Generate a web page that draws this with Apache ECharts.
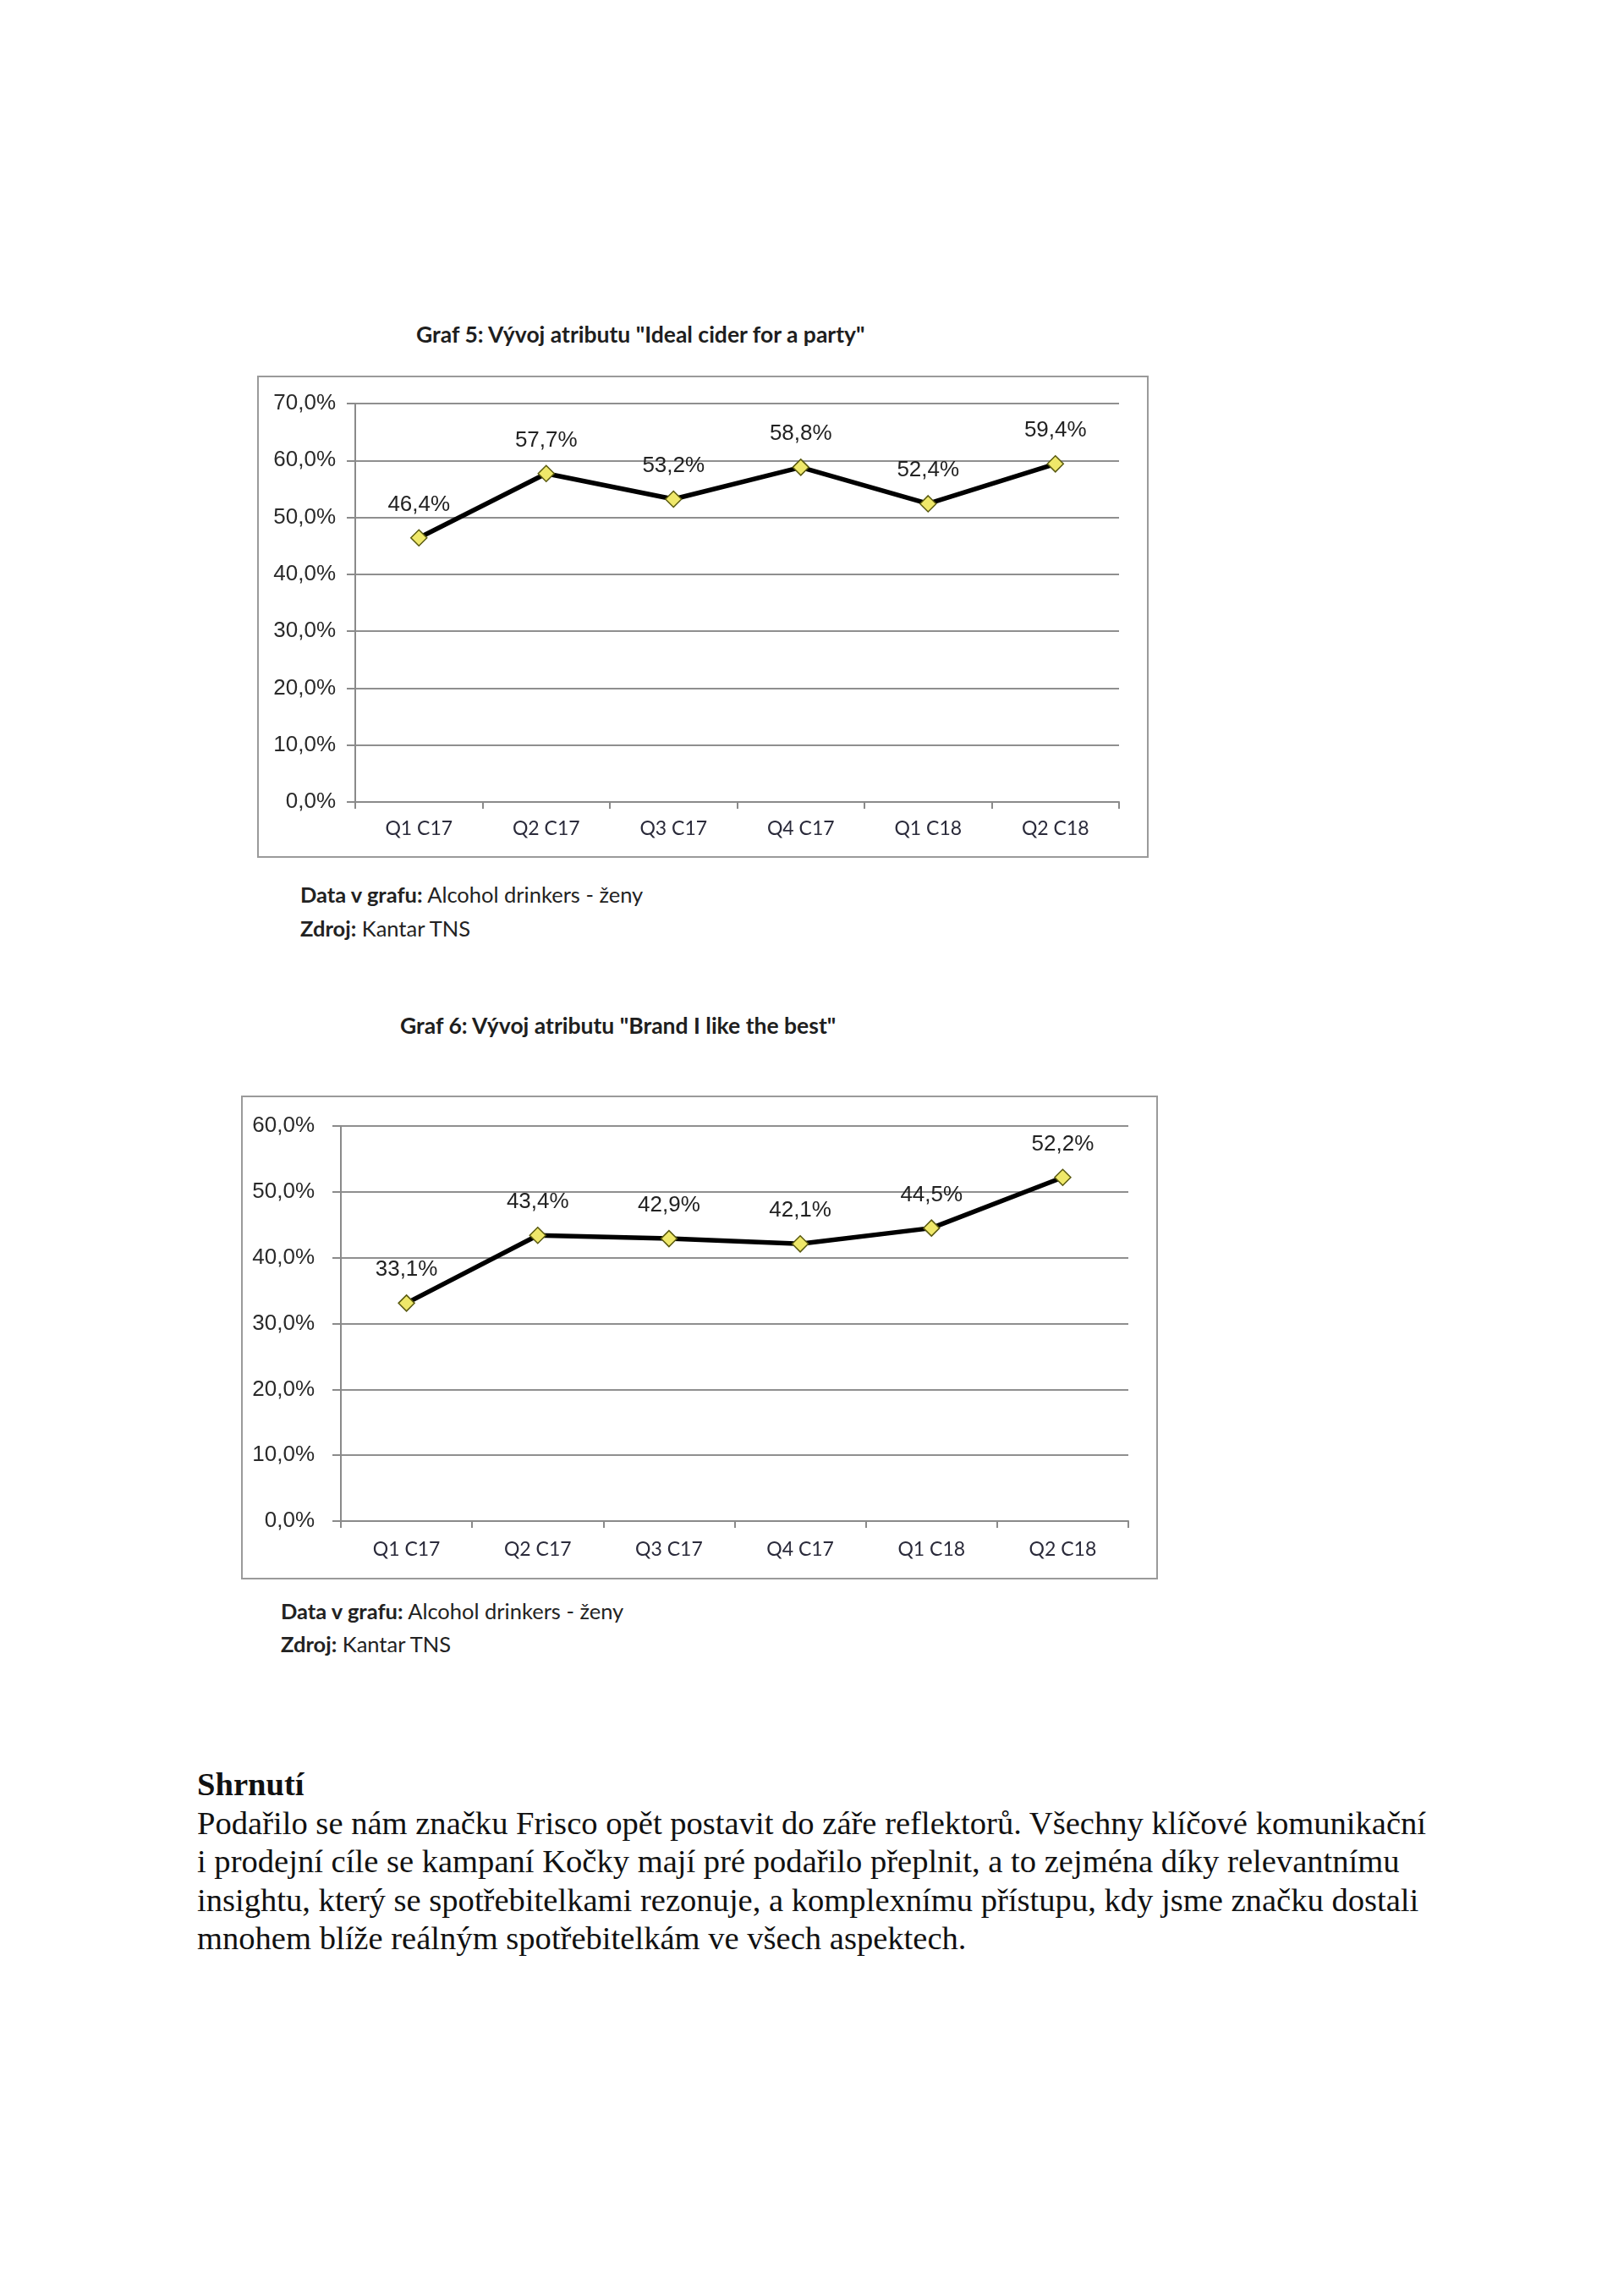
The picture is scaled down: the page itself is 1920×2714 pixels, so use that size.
<!DOCTYPE html>
<html>
<head>
<meta charset="utf-8">
<script src="https://cdn.jsdelivr.net/npm/echarts@6/dist/echarts.min.js"></script>
<style>
  html, body { margin:0; padding:0; background:#fff; }
  body { width:1920px; height:2714px; position:relative; overflow:hidden; }
  .box { position:absolute; border:2px solid #9a9a9a; box-sizing:border-box; }
  .t { position:absolute; white-space:nowrap; color:#222; }
  .title { font-family: Lato, "Open Sans", sans-serif; font-weight:700; font-size:26.5px; line-height:30px; color:#1e1e1e; }
  .foot { font-family: Lato, "Open Sans", sans-serif; font-size:25.5px; line-height:30px; color:#222; }
  .foot b { font-weight:700; }
  .para { position:absolute; left:233px; top:2087px; font-family:"Liberation Serif", "Times New Roman", serif; font-size:38.6px; line-height:45.5px; color:#111; white-space:nowrap; }
  #chart { position:absolute; left:0; top:0; width:1920px; height:2714px; }
</style>
</head>
<body>
<div class="box" style="left:304px; top:444px; width:1054px; height:570px;"></div>
<div class="box" style="left:285px; top:1295px; width:1084px; height:572px;"></div>

<div class="t title" style="left:492px; top:380px;">Graf 5: Vývoj atributu "Ideal cider for a party"</div>
<div class="t title" style="left:473px; top:1197px;">Graf 6: Vývoj atributu "Brand I like the best"</div>

<div class="t foot" style="left:355px; top:1042px;"><b>Data v grafu:</b> Alcohol drinkers - ženy</div>
<div class="t foot" style="left:355px; top:1082px;"><b>Zdroj:</b> Kantar TNS</div>
<div class="t foot" style="left:332px; top:1889px;"><b>Data v grafu:</b> Alcohol drinkers - ženy</div>
<div class="t foot" style="left:332px; top:1928px;"><b>Zdroj:</b> Kantar TNS</div>

<div class="para">
<b>Shrnutí</b><br>
Podařilo se nám značku Frisco opět postavit do záře reflektorů. Všechny klíčové komunikační<br>
i prodejní cíle se kampaní Kočky mají pré podařilo přeplnit, a to zejména díky relevantnímu<br>
insightu, který se spotřebitelkami rezonuje, a komplexnímu přístupu, kdy jsme značku dostali<br>
mnohem blíže reálným spotřebitelkám ve všech aspektech.
</div>

<div id="chart"></div>

<script>
// ---- data ----
var categories = ['Q1 C17', 'Q2 C17', 'Q3 C17', 'Q4 C17', 'Q1 C18', 'Q2 C18'];
var idealCider = [46.4, 57.7, 53.2, 58.8, 52.4, 59.4];
var brandLikeBest = [33.1, 43.4, 42.9, 42.1, 44.5, 52.2];
var axis1Max = 70;
var axis2Max = 60;
var axisStep = 10;

function pct(v) { return v.toFixed(1).replace('.', ',') + '%'; }

var chart = echarts.init(document.getElementById('chart'), null, { renderer: 'canvas' });

function xAx(gi, margin) {
  return {
    type: 'category', gridIndex: gi, data: categories, boundaryGap: true,
    axisLine: { show: true, lineStyle: { color: '#8a8a8a', width: 2 } },
    axisTick: { show: true, alignWithLabel: false, length: 8, lineStyle: { color: '#8a8a8a', width: 2 } },
    axisLabel: { margin: margin, color: '#2a2a3a', fontFamily: 'Lato, "Open Sans", sans-serif', fontSize: 23 },
    splitLine: { show: false }
  };
}
function yAx(gi, max, margin) {
  return {
    type: 'value', gridIndex: gi, min: 0, max: max, interval: axisStep,
    axisLine: { show: true, lineStyle: { color: '#8a8a8a', width: 2 } },
    axisTick: { show: true, length: 10, lineStyle: { color: '#8a8a8a', width: 2 } },
    axisLabel: { margin: margin, color: '#2a2a2a', fontFamily: '"Liberation Sans", Arial, sans-serif', fontSize: 26, formatter: function (v) { return pct(v); } },
    splitLine: { show: true, lineStyle: { color: '#8f8f8f', width: 2 } }
  };
}
function ser(gi, data) {
  return {
    type: 'line', xAxisIndex: gi, yAxisIndex: gi, data: data,
    symbol: 'diamond', symbolSize: 19,
    lineStyle: { color: '#000', width: 5.5 },
    itemStyle: { color: '#efe86a', borderColor: '#5a5a10', borderWidth: 1.5 },
    label: { show: true, position: 'top', distance: 16, color: '#222', fontFamily: '"Liberation Sans", Arial, sans-serif', fontSize: 26, formatter: function (p) { return pct(p.value); } },
    animation: false, z: 5
  };
}

chart.setOption({
  animation: false,
  grid: [
    { left: 420, top: 477, width: 903, height: 471 },
    { left: 403, top: 1331, width: 931, height: 467 }
  ],
  xAxis: [xAx(0, 20), xAx(1, 22)],
  yAxis: [yAx(0, axis1Max, 23), yAx(1, axis2Max, 31)],
  series: [ser(0, idealCider), ser(1, brandLikeBest)]
});
</script>
</body>
</html>
